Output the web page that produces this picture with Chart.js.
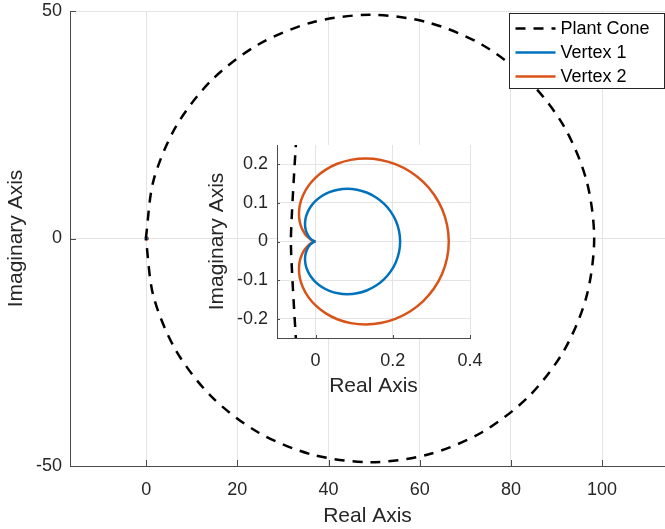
<!DOCTYPE html>
<html>
<head>
<meta charset="utf-8">
<script src="https://cdn.jsdelivr.net/npm/chart.js@4.4.0/dist/chart.umd.min.js"></script>
<style>
  body { margin: 0; background: #fff; }
  #wrap { position: relative; width: 665px; height: 529px; }
  #mainChart { position: absolute; left: 0; top: 0; }
  #insetChart { position: absolute; left: 195px; top: 135px; }
</style>
</head>
<body>
<div id="wrap">
  <canvas id="mainChart" width="665" height="529"></canvas>
  <canvas id="insetChart" width="300" height="270"></canvas>
</div>
<script>
// plant cone (roughly a circle through the origin)
// starts and ends at the left point so the loop seam sits there
const coneRe = [-0.065, 1.611, 6.522, 14.335, 24.517, 36.375, 49.1, 61.825, 73.683, 83.865, 91.678, 96.589, 98.265,
  96.589, 91.678, 83.865, 73.683, 61.825, 49.1, 36.375, 24.517, 14.335, 6.522, 1.611, -0.065];
const coneIm = [0, 12.725, 24.583, 34.765, 42.578, 47.489, 49.165, 47.489, 42.578, 34.765, 24.583, 12.725, 0,
  -12.725, -24.583, -34.765, -42.578, -47.489, -49.165, -47.489, -42.578, -34.765, -24.583, -12.725, 0];

// the same cone close to the origin, as seen in the inset
const coneZoomRe = [-0.050, -0.056, -0.061, -0.064, -0.061, -0.056, -0.050];
const coneZoomIm = [0.27, 0.17, 0.08, 0, -0.08, -0.17, -0.27];

// vertex 1 (blue), from the cusp at the origin, over the top, and back underneath
const v1Re = [0, -0.0009, -0.0036, -0.0077, -0.0127, -0.0180, -0.0227, -0.0261, -0.0274, -0.0259, -0.0210, -0.0124,
  0, 0.0162, 0.0357, 0.0579, 0.0821, 0.1072, 0.1322, 0.1558, 0.1770, 0.1946, 0.2079, 0.2162, 0.2190,
  0.2162, 0.2079, 0.1946, 0.1770, 0.1558, 0.1322, 0.1072, 0.0821, 0.0579, 0.0357, 0.0162, 0,
  -0.0124, -0.0210, -0.0259, -0.0274, -0.0261, -0.0227, -0.0180, -0.0127, -0.0077, -0.0036, -0.0009, 0];
const v1Im = [0, 0.0001, 0.0009, 0.0031, 0.0070, 0.0132, 0.0218, 0.0326, 0.0455, 0.0600, 0.0753, 0.0906,
  0.1051, 0.1178, 0.1278, 0.1343, 0.1366, 0.1342, 0.1269, 0.1148, 0.0981, 0.0774, 0.0535, 0.0273, 0,
  -0.0273, -0.0535, -0.0774, -0.0981, -0.1148, -0.1269, -0.1342, -0.1366, -0.1343, -0.1278, -0.1178, -0.1051,
  -0.0906, -0.0753, -0.0600, -0.0455, -0.0326, -0.0218, -0.0132, -0.0070, -0.0031, -0.0009, -0.0001, 0];

// vertex 2 (orange)
const v2Re = [0, -0.0015, -0.0057, -0.0121, -0.0200, -0.0283, -0.0357, -0.0411, -0.0431, -0.0408, -0.0331, -0.0196,
  0, 0.0255, 0.0562, 0.0913, 0.1294, 0.1689, 0.2082, 0.2454, 0.2788, 0.3066, 0.3276, 0.3406, 0.3450,
  0.3406, 0.3276, 0.3066, 0.2788, 0.2454, 0.2082, 0.1689, 0.1294, 0.0913, 0.0562, 0.0255, 0,
  -0.0196, -0.0331, -0.0408, -0.0431, -0.0411, -0.0357, -0.0283, -0.0200, -0.0121, -0.0057, -0.0015, 0];
const v2Im = [0, 0.0002, 0.0015, 0.0048, 0.0111, 0.0208, 0.0343, 0.0514, 0.0717, 0.0944, 0.1186, 0.1428,
  0.1656, 0.1856, 0.2014, 0.2115, 0.2151, 0.2114, 0.1999, 0.1808, 0.1545, 0.1219, 0.0843, 0.0430, 0,
  -0.0430, -0.0843, -0.1219, -0.1545, -0.1808, -0.1999, -0.2114, -0.2151, -0.2115, -0.2014, -0.1856, -0.1656,
  -0.1428, -0.1186, -0.0944, -0.0717, -0.0514, -0.0343, -0.0208, -0.0111, -0.0048, -0.0015, -0.0002, 0];

// ticks
const mainXTicks = [0, 20, 40, 60, 80, 100];
const mainXLabels = ["0", "20", "40", "60", "80", "100"];
const mainYTicks = [-50, 0, 50];
const mainYLabels = ["-50", "0", "50"];
const insetXTicks = [0, 0.2, 0.4];
const insetXLabels = ["0", "0.2", "0.4"];
const insetYTicks = [-0.2, -0.1, 0, 0.1, 0.2];
const insetYLabels = ["-0.2", "-0.1", "0", "0.1", "0.2"];

const legendLabels = ["Plant Cone", "Vertex 1", "Vertex 2"];

const FONT = '"Liberation Sans", Arial, Helvetica, sans-serif';
const textColor = "#262626";
const axisColor = "#4a4a4a";
const gridColor = "#e4e4e4";
const blue = "#0072BD";
const orange = "#D95319";
const dash = [10, 8];

const pts = (re, im) => re.map((x, i) => ({ x: x, y: im[i] }));

// matlab style ticks pointing into the axes
const inwardTicks = {
  id: "inwardTicks",
  afterDatasetsDraw(chart, args, opts) {
    const { ctx, chartArea: a, scales } = chart;
    const len = opts.length || 5;
    ctx.save();
    ctx.strokeStyle = axisColor;
    ctx.lineWidth = 1;
    ctx.beginPath();
    scales.x.ticks.forEach((t) => {
      const px = Math.round(scales.x.getPixelForValue(t.value)) + 0.5;
      ctx.moveTo(px, a.bottom);
      ctx.lineTo(px, a.bottom - len);
    });
    scales.y.ticks.forEach((t) => {
      const py = Math.round(scales.y.getPixelForValue(t.value)) + 0.5;
      ctx.moveTo(a.left, py);
      ctx.lineTo(a.left + len, py);
    });
    ctx.stroke();
    ctx.restore();
  },
};

const whiteArea = {
  id: "whiteArea",
  beforeDraw(chart) {
    const { ctx, chartArea: a } = chart;
    ctx.save();
    ctx.fillStyle = "#fff";
    ctx.fillRect(a.left, a.top, a.right - a.left, a.bottom - a.top);
    ctx.restore();
  },
};

// legend box in the top right corner
const boxLegend = {
  id: "boxLegend",
  afterDraw(chart) {
    const ctx = chart.ctx;
    const x0 = 509.5, y0 = 13.5, w = 155, h = 75;
    ctx.save();
    ctx.fillStyle = "#fff";
    ctx.fillRect(x0, y0, w, h);
    ctx.strokeStyle = textColor;
    ctx.lineWidth = 1;
    ctx.strokeRect(x0, y0, w, h);
    ctx.font = "18px " + FONT;
    ctx.textBaseline = "middle";
    chart.data.datasets.slice(0, legendLabels.length).forEach((ds, i) => {
      const y = y0 + 15 + i * 24;
      ctx.strokeStyle = ds.borderColor;
      ctx.lineWidth = ds.borderWidth;
      ctx.setLineDash(ds.borderDash || []);
      ctx.beginPath();
      ctx.moveTo(x0 + 6, y);
      ctx.lineTo(x0 + 46, y);
      ctx.stroke();
      ctx.setLineDash([]);
      ctx.fillStyle = "#000";
      ctx.fillText(legendLabels[i], x0 + 51, y + 1);
    });
    ctx.restore();
  },
};

function lineSet(label, data, color, dashed) {
  return {
    label: label,
    data: data,
    borderColor: color,
    borderWidth: 2.5,
    borderDash: dashed ? dash : [],
    pointRadius: 0,
    tension: 0.3,
    fill: false,
  };
}

function axis(min, max, ticks, labels, title, o) {
  return {
    type: "linear",
    min: min,
    max: max,
    afterBuildTicks: (s) => { s.ticks = ticks.map((v) => ({ value: v })); },
    afterFit: (s) => {
      if (o.height) s.height = o.height;
      if (o.width) s.width = o.width;
      s.paddingLeft = 0; s.paddingRight = 0; s.paddingTop = 0; s.paddingBottom = 0;
    },
    grid: { color: gridColor, lineWidth: 1, drawTicks: false },
    border: { display: true, color: axisColor, width: 1 },
    ticks: {
      font: { family: FONT, size: 18 },
      color: textColor,
      padding: o.tickPad,
      maxRotation: 0,
      autoSkip: false,
      callback: (v, i) => labels[i],
    },
    title: {
      display: true,
      text: title,
      font: { family: FONT, size: 21 },
      color: textColor,
      padding: o.titlePad,
    },
  };
}

Chart.defaults.font.family = FONT;

new Chart(document.getElementById("mainChart"), {
  type: "line",
  data: {
    datasets: [
      lineSet("Plant Cone", pts(coneRe, coneIm), "#000", true),
      lineSet("Vertex 1", pts(v1Re, v1Im), blue, false),
      lineSet("Vertex 2", pts(v2Re, v2Im), orange, false),
    ],
  },
  options: {
    responsive: false,
    animation: false,
    devicePixelRatio: 1,
    layout: { padding: { top: 11, right: 0, left: 0, bottom: 0 } },
    plugins: { legend: { display: false }, tooltip: { enabled: false }, inwardTicks: { length: 6 } },
    scales: {
      x: axis(-16.7, 113.8, mainXTicks, mainXLabels, "Real Axis",
        { height: 63, tickPad: 13, titlePad: { top: 0, bottom: 0 } }),
      y: axis(-50, 50, mainYTicks, mainYLabels, "Imaginary Axis",
        { width: 70, tickPad: 8, titlePad: { top: 4, bottom: 0 } }),
    },
  },
  plugins: [inwardTicks, boxLegend],
});

new Chart(document.getElementById("insetChart"), {
  type: "line",
  data: {
    datasets: [
      lineSet("Plant Cone", pts(coneZoomRe, coneZoomIm), "#000", true),
      lineSet("Vertex 1", pts(v1Re, v1Im), blue, false),
      lineSet("Vertex 2", pts(v2Re, v2Im), orange, false),
    ],
  },
  options: {
    responsive: false,
    animation: false,
    devicePixelRatio: 1,
    layout: { padding: { top: 10, right: 25, left: 0, bottom: 0 } },
    plugins: { legend: { display: false }, tooltip: { enabled: false }, inwardTicks: { length: 3 } },
    scales: {
      x: axis(-0.1, 0.4, insetXTicks, insetXLabels, "Real Axis",
        { height: 67, tickPad: 12, titlePad: { top: 0, bottom: 6 } }),
      y: axis(-0.25, 0.25, insetYTicks, insetYLabels, "Imaginary Axis",
        { width: 82, tickPad: 9, titlePad: { top: 10, bottom: 0 } }),
    },
  },
  plugins: [whiteArea, inwardTicks],
});
</script>
</body>
</html>
